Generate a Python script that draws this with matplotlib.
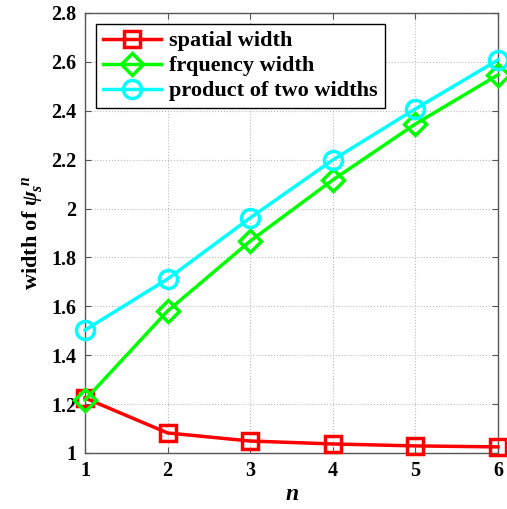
import matplotlib
matplotlib.use("Agg")
import matplotlib.pyplot as plt
import numpy as np

n = [1, 2, 3, 4, 5, 6]
spatial = [1.225, 1.082, 1.049, 1.037, 1.029, 1.025]
freq = [1.217, 1.581, 1.867, 2.117, 2.346, 2.547]
product = [1.503, 1.712, 1.962, 2.199, 2.408, 2.608]
yticks = [1, 1.2, 1.4, 1.6, 1.8, 2, 2.2, 2.4, 2.6, 2.8]
ylabels = ["1", "1.2", "1.4", "1.6", "1.8", "2", "2.2", "2.4", "2.6", "2.8"]

plt.rcParams['font.family'] = ['Liberation Serif', 'DejaVu Serif']
plt.rcParams['font.weight'] = 'bold'
plt.rcParams['mathtext.fontset'] = 'custom'
plt.rcParams['mathtext.it'] = 'Liberation Serif:italic:bold'
plt.rcParams['mathtext.rm'] = 'Liberation Serif:bold'

fig = plt.figure(figsize=(5.07, 5.09), dpi=100)
ax = fig.add_axes([85/507, 56/509, 413/507, 440/509])

ax.plot(n, spatial, color='#ff0000', lw=2.5, marker='s', ms=11, mfc='none', mew=2.5,
        label='spatial width', clip_on=False, zorder=3)
ax.plot(n, freq, color='#00ff00', lw=2.5, marker='D', ms=11, mfc='none', mew=2.5,
        label='frquency width', clip_on=False, zorder=3)
ax.plot(n, product, color='#00ffff', lw=2.5, marker='o', ms=13, mfc='none', mew=2.5,
        label='product of two widths', clip_on=False, zorder=3)

ax.set_xlim(1, 6)
ax.set_ylim(1, 2.8)
ax.set_xticks(n)
ax.set_yticks(yticks)
ax.set_yticklabels(ylabels)
ax.tick_params(direction='in', top=True, right=True, labelsize=14.5, length=4, color='#555555', pad=6)
for lab in ax.get_xticklabels() + ax.get_yticklabels():
    lab.set_fontweight('bold')
for s in ax.spines.values():
    s.set_color('#555555')
    s.set_linewidth(1)
ax.grid(True, linestyle=':', color='#bbbbbb', lw=0.8)
ax.set_axisbelow(True)

ax.set_xlabel(r'$n$', fontsize=17, labelpad=2)
ax.set_ylabel(r'width of $\psi_s^{\ n}$', fontsize=16, fontweight='bold', labelpad=5)

leg = ax.legend(loc='upper left', fontsize=16, fancybox=False, framealpha=1,
                edgecolor='black', borderaxespad=0.5, handlelength=2.6,
                labelspacing=0.2, borderpad=0.3, handletextpad=0.4)
leg.set_zorder(5)
leg.get_frame().set_linewidth(1)
for t in leg.get_texts():
    t.set_fontweight('bold')

fig.savefig('out.png', dpi=100)
